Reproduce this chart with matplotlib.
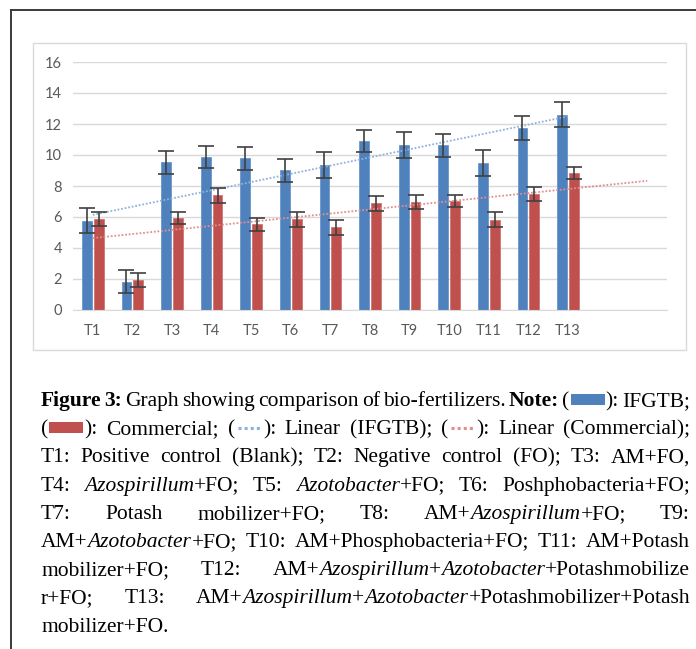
import re
import numpy as np
import matplotlib
matplotlib.use("Agg")
import matplotlib.pyplot as plt
from matplotlib.patches import Rectangle
from matplotlib.lines import Line2D

# data
treatments = ["T1", "T2", "T3", "T4", "T5", "T6", "T7", "T8", "T9", "T10", "T11", "T12", "T13"]
ifgtb = [5.75, 1.83, 9.53, 9.87, 9.78, 9.00, 9.35, 10.90, 10.62, 10.62, 9.50, 11.74, 12.60]
ifgtb_err = [0.80, 0.75, 0.75, 0.73, 0.72, 0.76, 0.82, 0.73, 0.84, 0.76, 0.84, 0.75, 0.82]
commercial = [5.85, 1.94, 5.94, 7.40, 5.53, 5.85, 5.33, 6.88, 6.97, 7.05, 5.83, 7.48, 8.84]
commercial_err = [0.45, 0.47, 0.38, 0.47, 0.43, 0.47, 0.47, 0.50, 0.47, 0.39, 0.49, 0.48, 0.41]
forecast = 2  # commercial trendline is extended two periods forward
yticks = [0, 2, 4, 6, 8, 10, 12, 14, 16]

caption = [
    "**Figure 3:** Graph showing comparison of bio-fertilizers. **Note:** ([box:blue]): IFGTB;",
    "([box:red]): Commercial; ([dot:blue]): Linear (IFGTB); ([dot:red]): Linear (Commercial);",
    "T1: Positive control (Blank); T2: Negative control (FO); T3: AM+FO,",
    "T4: *Azospirillum*+FO; T5: *Azotobacter*+FO; T6: Poshphobacteria+FO;",
    "T7: Potash mobilizer+FO; T8: AM+*Azospirillum*+FO; T9:",
    "AM+*Azotobacter*+FO; T10: AM+Phosphobacteria+FO; T11: AM+Potash",
    "mobilizer+FO; T12: AM+*Azospirillum*+*Azotobacter*+Potashmobilize",
    "r+FO; T13: AM+*Azospirillum*+*Azotobacter*+Potashmobilizer+Potash",
    "mobilizer+FO.",
]

BLUE = "#4F81BD"
RED = "#C0504D"
TREND = {"blue": "#8FB2DD", "red": "#E08F8D"}
SWATCH = {"blue": BLUE, "red": RED}

W, H = 696, 649
fig = plt.figure(figsize=(W / 100, H / 100), dpi=100)

def fx(px):
    return px / W

def fy(py):
    return 1 - py / H

# outer frame (left and top edge) and chart box
fig.add_artist(Line2D([fx(11), fx(11)], [fy(10), fy(H + 5)], color="#3a3a3a", lw=1.4))
fig.add_artist(Line2D([fx(11), fx(W + 5)], [fy(10), fy(10)], color="#3a3a3a", lw=1.4))
fig.add_artist(Rectangle((fx(33), fy(350)), fx(686 - 33), (350 - 43) / H,
                         fill=False, edgecolor="#D9D9D9", lw=1))

ax = fig.add_axes([fx(73), fy(310), fx(667 - 73), (310 - 62) / H])
x = np.arange(len(treatments))
bw = 0.25
ekw = dict(ecolor="#404040", elinewidth=1.2, capsize=5.5, capthick=1.2, zorder=4)
ax.bar(x - 0.15, ifgtb, bw, color=BLUE, edgecolor="#6C96CC", lw=0.6,
       yerr=ifgtb_err, error_kw=ekw, zorder=2)
ax.bar(x + 0.15, commercial, bw, color=RED, edgecolor="#CF7573", lw=0.6,
       yerr=commercial_err, error_kw=ekw, zorder=2)

# linear trendlines
p1 = np.polyfit(x, ifgtb, 1)
ax.plot(x, np.polyval(p1, x), ls=(0, (1, 1)), color=TREND["blue"], lw=1.3, zorder=3)
p2 = np.polyfit(x, commercial, 1)
xf = np.arange(len(treatments) + forecast)
ax.plot(xf, np.polyval(p2, xf), ls=(0, (1, 1)), color=TREND["red"], lw=1.3, zorder=3)

ax.set_xlim(-0.5, len(treatments) + forecast - 0.5)
ax.set_ylim(0, 16)
ax.set_yticks(yticks)
ax.set_xticks(x)
ax.set_xticklabels(treatments)
ax.grid(axis="y", color="#D9D9D9", lw=1)
ax.set_axisbelow(True)
for s in ["top", "right", "left"]:
    ax.spines[s].set_visible(False)
ax.spines["bottom"].set_color("#D9D9D9")
ax.tick_params(length=0, labelcolor="#595959", labelsize=10.5)
ax.tick_params(axis="x", pad=10)
ax.tick_params(axis="y", pad=8)
for lab in ax.get_xticklabels() + ax.get_yticklabels():
    lab.set_fontfamily("Lato")

# caption, justified word by word
renderer = fig.canvas.get_renderer()
left, right = 41, 690
base0, step = 406, 28.2
fsize = 15.5

def parse(line):
    words = []
    bold = ital = False
    for w in line.split(" "):
        pieces = []
        for tok in re.split(r"(\*\*|\*|\[\w+:\w+\])", w):
            if tok == "**":
                bold = not bold
            elif tok == "*":
                ital = not ital
            elif tok.startswith("["):
                kind, col = tok[1:-1].split(":")
                pieces.append((kind, col))
            elif tok:
                pieces.append((tok, bold, ital))
        words.append(pieces)
    return words

def build(words, size):
    out = []
    for pieces in words:
        items = []
        for pc in pieces:
            if len(pc) == 2:
                items.append((pc, 36 if pc[0] == "box" else 28))
            else:
                t = fig.text(0, 0, pc[0], fontsize=size, family="Liberation Serif",
                             fontweight="bold" if pc[1] else "normal",
                             fontstyle="italic" if pc[2] else "normal", va="baseline")
                items.append((t, t.get_window_extent(renderer).width))
        out.append(items)
    return out

for i, line in enumerate(caption):
    words = parse(line)
    base = base0 + i * step
    size = fsize
    built = build(words, size)
    natural = sum(w for items in built for _, w in items)
    last = i == len(caption) - 1
    gaps = max(len(built) - 1, 1)
    gap = 4.5 if last else (right - left - natural) / gaps
    while gap < 1.5 and not last:
        for items in built:
            for obj, _ in items:
                if not isinstance(obj, tuple):
                    obj.remove()
        size -= 0.25
        built = build(words, size)
        natural = sum(w for items in built for _, w in items)
        gap = (right - left - natural) / gaps
    xpos = left
    for items in built:
        for obj, w in items:
            if isinstance(obj, tuple):
                kind, col = obj
                if kind == "box":
                    fig.add_artist(Rectangle((fx(xpos + 1), fy(base - 1.5)), fx(w - 2), 11 / H,
                                             color=SWATCH[col], lw=0))
                else:
                    fig.add_artist(Line2D([fx(xpos + 3), fx(xpos + w - 3)], [fy(base - 6)] * 2,
                                          color=TREND[col], lw=2.2, ls=(0, (1, 1))))
            else:
                obj.set_position((fx(xpos), fy(base)))
            xpos += w
        xpos += gap

fig.savefig("out.png", dpi=100)
